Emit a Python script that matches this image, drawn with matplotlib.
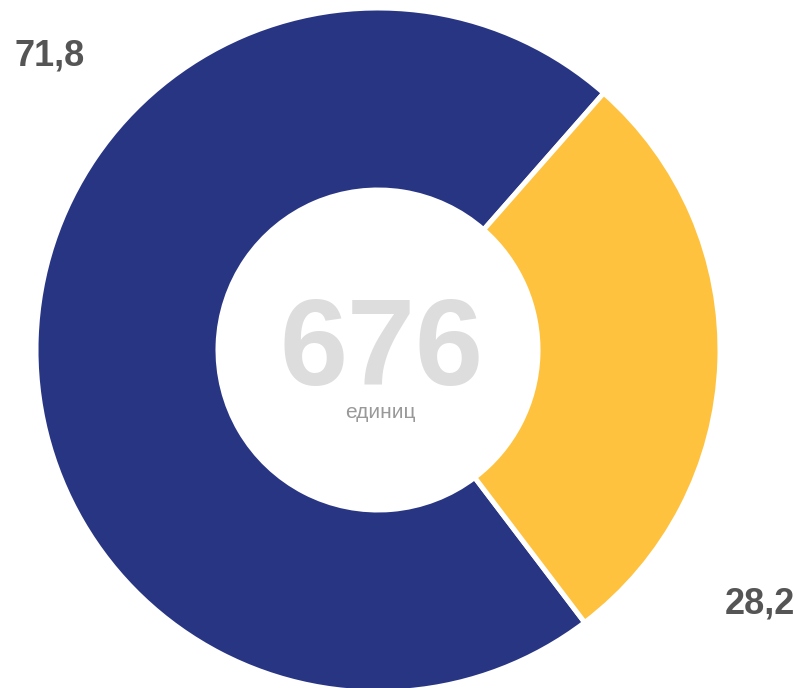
import matplotlib
matplotlib.use('Agg')
import matplotlib.pyplot as plt

# доли, %
labels = ['71,8', '28,2']
shares = [71.8, 28.2]
colors = ['#283583', '#FFC23E']
total = '676'
unit = 'единиц'

plt.rcParams['font.family'] = ['Liberation Sans', 'DejaVu Sans']

fig = plt.figure(figsize=(7.98, 6.88), dpi=100)
ax = fig.add_axes([0, 0, 1, 1])

cx, cy = 378, 688 - 350
r_out, r_in = 342, 160
ax.pie(shares, colors=colors, startangle=48.7, counterclock=True,
       center=(cx, cy), radius=r_out, frame=True,
       wedgeprops=dict(width=r_out - r_in, edgecolor='white', linewidth=3.6))
ax.set_xlim(0, 798)
ax.set_ylim(0, 688)
ax.set_aspect('equal')
ax.axis('off')

# подписи долей
ax.text(50, 688 - 56, labels[0], ha='center', va='center', fontsize=26,
        fontweight='bold', color='#555555')
ax.text(760, 688 - 604, labels[1], ha='center', va='center', fontsize=26,
        fontweight='bold', color='#555555')

# центр
ax.text(381, 688 - 385, total, ha='center', va='baseline', fontsize=88,
        fontweight='bold', color='#DDDDDD')
ax.text(380, 688 - 412, unit, ha='center', va='center', fontsize=15,
        color='#999999')

fig.savefig('out.png', dpi=100)
